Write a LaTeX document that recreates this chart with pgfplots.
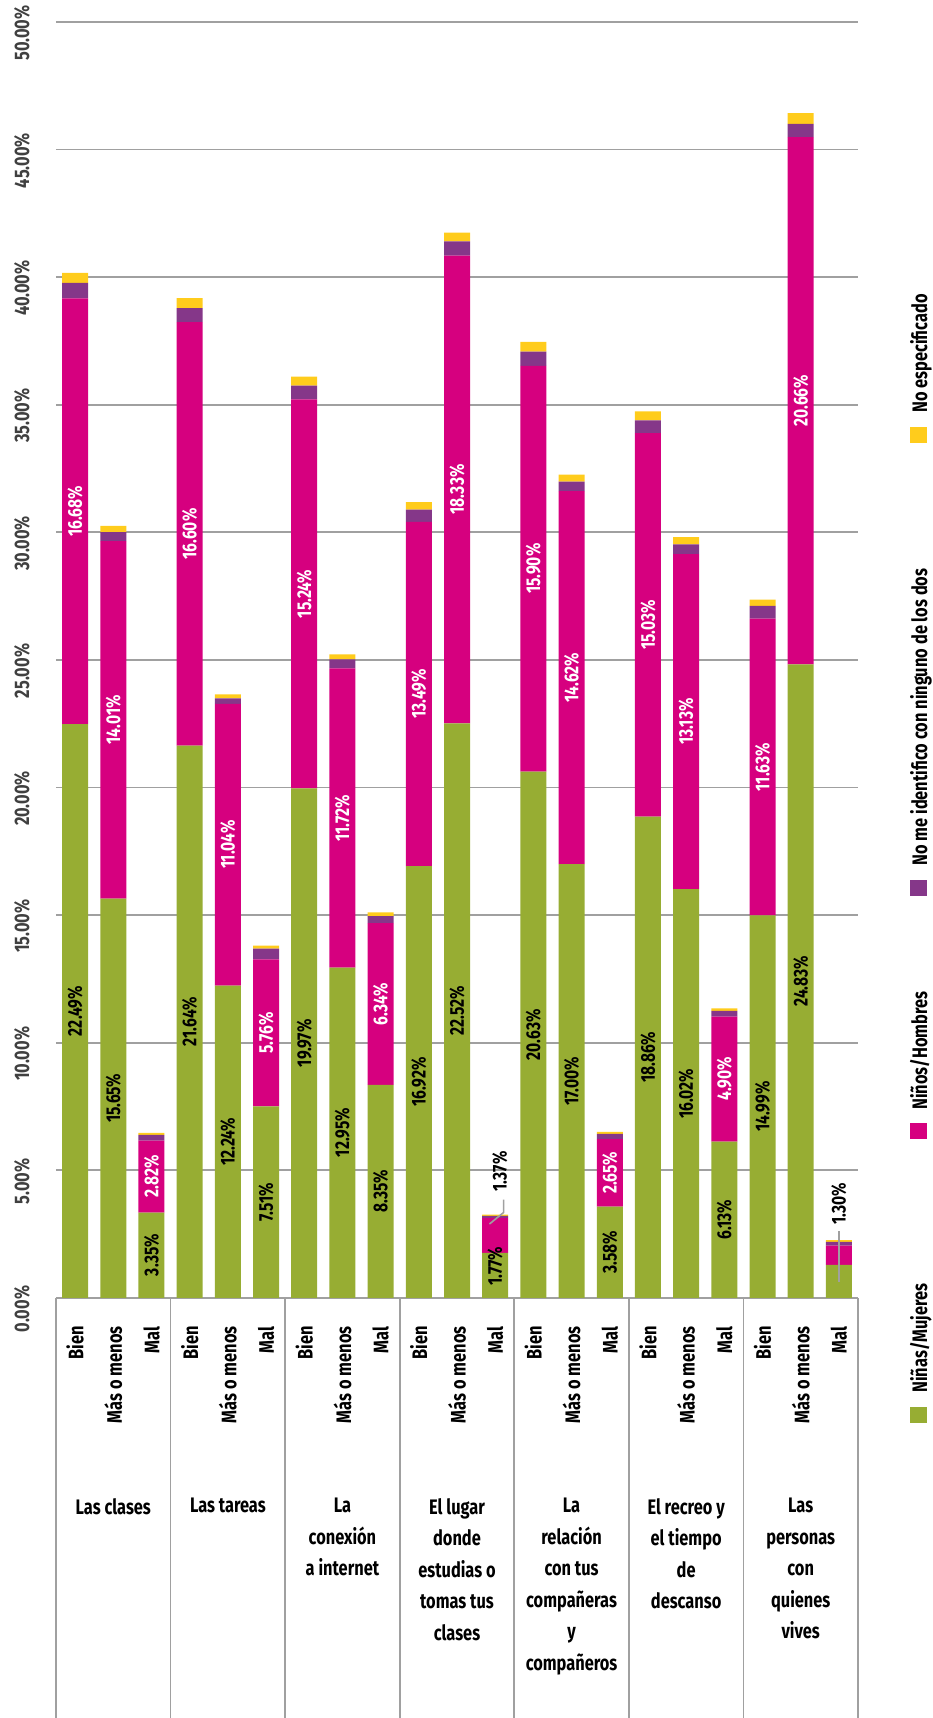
\documentclass[border=0pt]{standalone}
\usepackage{fontspec}
\setmainfont{Fira Sans}[FakeStretch=0.78]
\usepackage{pgfplots}
\usepackage{pgfplotstable}
\pgfplotsset{compat=1.18}

\definecolor{verde}{RGB}{151,173,51}
\definecolor{rosa}{RGB}{214,0,127}
\definecolor{morado}{RGB}{133,55,137}
\definecolor{amarillo}{RGB}{255,204,28}
\definecolor{rejilla}{RGB}{160,160,160}

\newcommand{\lbl}{\fontsize{10.5}{12}\selectfont\bfseries}
\newcommand{\vlbl}{\fontsize{10}{12}\selectfont\bfseries}

% columnas: g = Niñas/Mujeres, m = Niños/Hombres, p = ninguno, n = no especificado
\pgfplotstableread{
x  g     m     p    n    gl       ml
0  22.49 16.68 0.61 0.39 22.49\%  16.68\%
1  15.65 14.01 0.35 0.25 15.65\%  14.01\%
2  3.35  2.82  0.22 0.08 3.35\%   2.82\%
3  21.64 16.60 0.55 0.39 21.64\%  16.60\%
4  12.24 11.04 0.22 0.15 12.24\%  11.04\%
5  7.51  5.76  0.42 0.12 7.51\%   5.76\%
6  19.97 15.24 0.54 0.35 19.97\%  15.24\%
7  12.95 11.72 0.35 0.20 12.95\%  11.72\%
8  8.35  6.34  0.27 0.15 8.35\%   6.34\%
9  16.92 13.49 0.48 0.30 16.92\%  13.49\%
10 22.52 18.33 0.55 0.35 22.52\%  18.33\%
11 1.77  1.37  0.08 0.05 {}       {}
12 20.63 15.90 0.55 0.39 20.63\%  15.90\%
13 17.00 14.62 0.37 0.27 17.00\%  14.62\%
14 3.58  2.65  0.20 0.08 3.58\%   2.65\%
15 18.86 15.03 0.50 0.35 18.86\%  15.03\%
16 16.02 13.13 0.38 0.28 16.02\%  13.13\%
17 6.13  4.90  0.22 0.10 6.13\%   4.90\%
18 14.99 11.63 0.50 0.25 14.99\%  11.63\%
19 24.83 20.66 0.52 0.42 24.83\%  20.66\%
20 1.30  0.75  0.15 0.07 {}       {}
}\datos
% centro de cada segmento, para las etiquetas
\pgfplotstablecreatecol[expr={\thisrow{g}/2}]{gc}{\datos}
\pgfplotstablecreatecol[expr={\thisrow{g}+\thisrow{m}/2}]{mc}{\datos}

\pgfplotsset{
  mismo/.style={at={(28pt,210pt)}, anchor=south west,
    scale only axis, width=401pt, height=638pt,
    xmin=-0.5, xmax=20.5, ymin=0, ymax=50, clip=false},
}
\tikzset{
  grp/.style={anchor=north, yshift=-100pt, align=center, inner sep=0pt,
    font=\fontsize{10.5}{15.75}\selectfont\bfseries},
  leyenda/.style={rotate=90, anchor=base west, inner sep=0pt, font=\lbl},
}

\begin{document}
\begin{tikzpicture}
\path[use as bounding box] (0,0) rectangle (466pt,859pt);
\begin{axis}[
  mismo,
  ybar stacked, bar width=13pt,
  axis line style={draw=none},
  ymajorgrids, grid style={rejilla, line width=0.9pt},
  major tick length=0pt, minor tick length=210pt, tick align=outside,
  xtick pos=bottom, ytick pos=left,
  xtick={0,...,20},
  xticklabels={Bien,Más o menos,Mal,Bien,Más o menos,Mal,Bien,Más o menos,Mal,
    Bien,Más o menos,Mal,Bien,Más o menos,Mal,Bien,Más o menos,Mal,Bien,Más o menos,Mal},
  minor xtick={-0.5,2.5,5.5,8.5,11.5,14.5,17.5,20.5},
  minor x tick style={rejilla, line width=0.9pt},
  ytick={0,5,...,50},
  yticklabels={0.00\%,5.00\%,10.00\%,15.00\%,20.00\%,25.00\%,30.00\%,35.00\%,40.00\%,45.00\%,50.00\%},
  tick label style={font=\lbl},
  xticklabel style={yshift=-10.7pt, rotate=90, anchor=east, text=black},
  yticklabel style={xshift=-9.5pt, yshift=-5.5pt, rotate=90, anchor=south, text=black!75},
]
\addplot[fill=verde, draw=none] table[x=x, y=g] {\datos};
\addplot[fill=rosa, draw=none] table[x=x, y=m] {\datos};
\addplot[fill=morado, draw=none] table[x=x, y=p] {\datos};
\addplot[fill=amarillo, draw=none] table[x=x, y=n] {\datos};

% categorias
\node[grp] at (axis cs:1,0) {Las clases};
\node[grp] at (axis cs:4,0) {Las tareas};
\node[grp] at (axis cs:7,0) {La\\conexión\\a internet};
\node[grp] at (axis cs:10,0) {El lugar\\donde\\estudias o\\tomas tus\\clases};
\node[grp] at (axis cs:13,0) {La\\relación\\con tus\\compañeras\\y\\compañeros};
\node[grp] at (axis cs:16,0) {El recreo y\\el tiempo\\de\\descanso};
\node[grp] at (axis cs:19,0) {Las\\personas\\con\\quienes\\vives};
\end{axis}

% etiquetas de valores
\begin{axis}[mismo, hide axis]
\addplot[draw=none, mark=none, point meta=explicit symbolic,
  nodes near coords,
  every node near coord/.append style={font=\vlbl, text=black, rotate=90, anchor=center}]
  table[x=x, y=gc, meta=gl] {\datos};
\addplot[draw=none, mark=none, point meta=explicit symbolic,
  nodes near coords,
  every node near coord/.append style={font=\vlbl, text=white, rotate=90, anchor=center}]
  table[x=x, y=mc, meta=ml] {\datos};

% etiquetas de segmentos pequeños
\node[rotate=90, font=\vlbl, text=black] at (axis cs:11,1.24) {1.77\%};
\draw[rejilla, line width=0.8pt] (axis cs:10.85,2.9) -- (axis cs:11.22,3.35) -- (axis cs:11.22,3.85);
\node[rotate=90, anchor=west, font=\vlbl, text=black] at (axis cs:11.12,3.9) {1.37\%};
\draw[rejilla, line width=0.8pt] (axis cs:20,0.64) -- (axis cs:20,2.62);
\node[rotate=90, anchor=west, font=\vlbl, text=black] at (axis cs:20,2.6) {1.30\%};
\end{axis}

% leyenda (girada, como en el original)
\fill[verde] (455pt,147.5pt) rectangle (463.5pt,155.5pt);
\node[leyenda] at (463.5pt,162.5pt) {Niñas/Mujeres};
\fill[rosa] (455pt,289.5pt) rectangle (463.5pt,297.5pt);
\node[leyenda] at (463.5pt,304pt) {Niños/Hombres};
\fill[morado] (455pt,411pt) rectangle (463.5pt,419pt);
\node[leyenda] at (463.5pt,426pt) {No me identifico con ninguno de los dos};
\fill[amarillo] (455pt,637.5pt) rectangle (463.5pt,645.5pt);
\node[leyenda] at (463.5pt,652.5pt) {No especificado};
\end{tikzpicture}
\end{document}
